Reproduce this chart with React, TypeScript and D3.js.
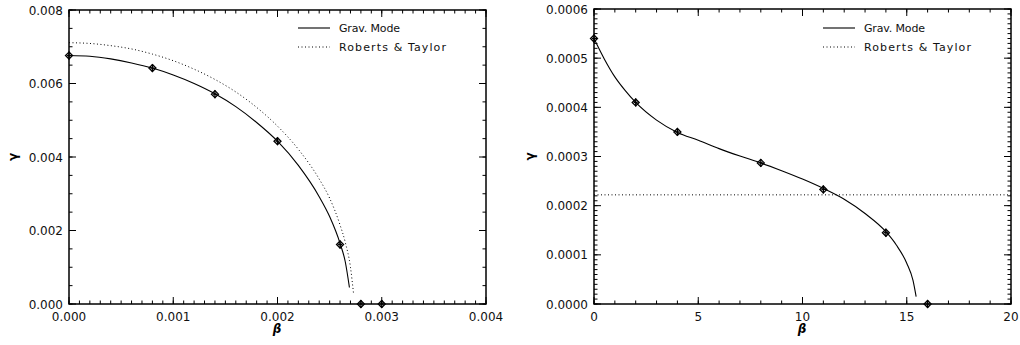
import React from "react";
import * as d3 from "d3";

// ---------- Data ----------
// Left panel: Grav. Mode curve (beta, gamma)
const leftGravBeta = [0, 0.0002, 0.0004, 0.0006, 0.0008, 0.001, 0.0012, 0.0014, 0.0016, 0.0018, 0.002, 0.0022, 0.0024, 0.0025, 0.0026, 0.00265, 0.00269];
const leftGravGamma = [0.00676, 0.00674, 0.00667, 0.00656, 0.00642, 0.00623, 0.006, 0.00572, 0.00537, 0.00494, 0.00443, 0.00377, 0.00292, 0.00238, 0.00165, 0.00115, 0.00045];
// Left panel: Roberts & Taylor curve
const leftRTBeta = [0, 0.0002, 0.0004, 0.0006, 0.0008, 0.001, 0.0012, 0.0014, 0.0016, 0.0018, 0.002, 0.0022, 0.0024, 0.0025, 0.0026, 0.00265, 0.0027, 0.00273];
const leftRTGamma = [0.00711, 0.00709, 0.00703, 0.00694, 0.0068, 0.00662, 0.00639, 0.00611, 0.00577, 0.00535, 0.00484, 0.00421, 0.0034, 0.00288, 0.00215, 0.00168, 0.001, 0.00027];
// Left panel: computed points
const leftPtsBeta = [0, 0.0008, 0.0014, 0.002, 0.0026, 0.0028, 0.003];
const leftPtsGamma = [0.00676, 0.00642, 0.00571, 0.00443, 0.00162, 0, 0];

// Right panel: Grav. Mode curve
const rightGravBeta = [0, 0.5, 1, 1.5, 2, 3, 4, 5, 6, 7, 8, 9, 10, 11, 12, 13, 14, 14.5, 15, 15.3, 15.45];
const rightGravGamma = [0.00054, 0.000498, 0.000462, 0.000434, 0.00041, 0.000374, 0.000349, 0.000333, 0.000316, 0.000301, 0.000287, 0.000271, 0.000254, 0.000235, 0.000213, 0.000184, 0.000147, 0.00012, 0.000083, 0.000048, 0.000015];
// Right panel: Roberts & Taylor (constant)
const rightRTBeta = [0, 20];
const rightRTGamma = [0.000222, 0.000222];
// Right panel: computed points
const rightPtsBeta = [0, 2, 4, 8, 11, 14, 16];
const rightPtsGamma = [0.00054, 0.00041, 0.00035, 0.000287, 0.000233, 0.000145, 0];

// Tick labels
const leftXTicks = [0, 0.001, 0.002, 0.003, 0.004];
const leftYTicks = [0, 0.002, 0.004, 0.006, 0.008];
const rightXTicks = [0, 5, 10, 15, 20];
const rightYTicks = [0, 0.0001, 0.0002, 0.0003, 0.0004, 0.0005, 0.0006];

const legendLabels = ["Grav. Mode", "Roberts & Taylor"];

type PanelProps = {
  x0: number; x1: number; y0: number; y1: number;
  xDomain: [number, number]; yDomain: [number, number];
  xTicks: number[]; yTicks: number[];
  xMinorStep: number; yMinorStep: number;
  xFmt: (v: number) => string; yFmt: (v: number) => string;
  grav: [number[], number[]]; rt: [number[], number[]];
  pts: [number[], number[]];
  legendX: number;
  gammaX: number;
  betaX: number;
};

const FONT = "'DejaVu Sans', sans-serif";

function Panel(p: PanelProps) {
  const x = d3.scaleLinear().domain(p.xDomain).range([p.x0, p.x1]);
  const y = d3.scaleLinear().domain(p.yDomain).range([p.y0, p.y1]);
  const line = d3
    .line<[number, number]>()
    .x((d) => x(d[0]))
    .y((d) => y(d[1]))
    .curve(d3.curveMonotoneX);
  const gravData = p.grav[0].map((b, i) => [b, p.grav[1][i]] as [number, number]);
  const rtData = p.rt[0].map((b, i) => [b, p.rt[1][i]] as [number, number]);
  const ptData = p.pts[0].map((b, i) => [b, p.pts[1][i]] as [number, number]);

  const xMinor = d3.range(p.xDomain[0], p.xDomain[1] + p.xMinorStep / 2, p.xMinorStep);
  const yMinor = d3.range(p.yDomain[0], p.yDomain[1] + p.yMinorStep / 2, p.yMinorStep);
  const majL = 7;
  const minL = 3.5;

  return (
    <g>
      {/* minor ticks */}
      {xMinor.map((v, i) => (
        <g key={"xm" + i} stroke="#000" strokeWidth={1}>
          <line x1={x(v)} x2={x(v)} y1={p.y0} y2={p.y0 - minL} />
          <line x1={x(v)} x2={x(v)} y1={p.y1} y2={p.y1 + minL} />
        </g>
      ))}
      {yMinor.map((v, i) => (
        <g key={"ym" + i} stroke="#000" strokeWidth={1}>
          <line x1={p.x0} x2={p.x0 + minL} y1={y(v)} y2={y(v)} />
          <line x1={p.x1} x2={p.x1 - minL} y1={y(v)} y2={y(v)} />
        </g>
      ))}
      {/* major ticks */}
      {p.xTicks.map((v, i) => (
        <g key={"xM" + i}>
          <line x1={x(v)} x2={x(v)} y1={p.y0} y2={p.y0 - majL} stroke="#000" strokeWidth={1} />
          <line x1={x(v)} x2={x(v)} y1={p.y1} y2={p.y1 + majL} stroke="#000" strokeWidth={1} />
          <text x={x(v)} y={p.y0 + 17} textAnchor="middle" fontSize={12} fontFamily={FONT} fill="#111">
            {p.xFmt(v)}
          </text>
        </g>
      ))}
      {p.yTicks.map((v, i) => (
        <g key={"yM" + i}>
          <line x1={p.x0} x2={p.x0 + majL} y1={y(v)} y2={y(v)} stroke="#000" strokeWidth={1} />
          <line x1={p.x1} x2={p.x1 - majL} y1={y(v)} y2={y(v)} stroke="#000" strokeWidth={1} />
          <text x={p.x0 - 6} y={y(v) + 4.5} textAnchor="end" fontSize={12} fontFamily={FONT} fill="#111">
            {p.yFmt(v)}
          </text>
        </g>
      ))}
      {/* frame */}
      <rect x={p.x0} y={p.y1} width={p.x1 - p.x0} height={p.y0 - p.y1} fill="none" stroke="#000" strokeWidth={1.5} />

      {/* curves */}
      <path d={line(rtData) || ""} fill="none" stroke="#000" strokeWidth={1} strokeDasharray="1,2.5" />
      <path d={line(gravData) || ""} fill="none" stroke="#000" strokeWidth={1.1} />

      {/* points */}
      {ptData.map((d, i) => {
        const cx = x(d[0]);
        const cy = y(d[1]);
        const s = 3.5;
        return (
          <g key={"p" + i} stroke="#000" strokeWidth={1.3} fill="none">
            <path d={`M${cx},${cy - s}L${cx + s},${cy}L${cx},${cy + s}L${cx - s},${cy}Z`} />
            <line x1={cx} x2={cx} y1={cy - 4} y2={cy + 4} />
            <line x1={cx - 2} x2={cx + 2} y1={cy} y2={cy} />
          </g>
        );
      })}

      {/* legend */}
      <line x1={p.legendX} x2={p.legendX + 32} y1={28} y2={28} stroke="#000" strokeWidth={1.1} />
      <text x={p.legendX + 41} y={32} fontSize={11} fontFamily={FONT} textLength={61} lengthAdjust="spacing" fill="#111">
        {legendLabels[0]}
      </text>
      <line x1={p.legendX} x2={p.legendX + 32} y1={47} y2={47} stroke="#000" strokeWidth={1} strokeDasharray="1,2.5" />
      <text x={p.legendX + 41} y={51} fontSize={11} fontFamily={FONT} textLength={107} lengthAdjust="spacing" fill="#111">
        {legendLabels[1]}
      </text>

      {/* axis titles */}
      <text x={p.betaX} y={333} textAnchor="middle" fontSize={12} fontStyle="italic" fontWeight="bold" fontFamily={FONT}>
        β
      </text>
      <text
        transform={`translate(${p.gammaX},${(p.y0 + p.y1) / 2}) rotate(-90)`}
        textAnchor="middle"
        fontSize={12}
        fontWeight="bold"
        fontFamily={FONT}
      >
        γ
      </text>
    </g>
  );
}

export default function App() {
  return (
    <svg
      width={1020}
      height={345}
      style={{ position: "absolute", left: 0, top: 0, background: "#fff" }}
    >
      <rect x={0} y={0} width={1020} height={345} fill="#fff" />
      <Panel
        x0={69} x1={486} y0={304} y1={10}
        xDomain={[0, 0.004]} yDomain={[0, 0.008]}
        xTicks={leftXTicks} yTicks={leftYTicks}
        xMinorStep={0.0001} yMinorStep={0.0005}
        xFmt={(v) => v.toFixed(3)} yFmt={(v) => v.toFixed(3)}
        grav={[leftGravBeta, leftGravGamma]}
        rt={[leftRTBeta, leftRTGamma]}
        pts={[leftPtsBeta, leftPtsGamma]}
        legendX={298}
        gammaX={17}
        betaX={277}
      />
      <Panel
        x0={594} x1={1011} y0={304} y1={9}
        xDomain={[0, 20]} yDomain={[0, 0.0006]}
        xTicks={rightXTicks} yTicks={rightYTicks}
        xMinorStep={1} yMinorStep={0.00001}
        xFmt={(v) => String(v)} yFmt={(v) => v.toFixed(4)}
        grav={[rightGravBeta, rightGravGamma]}
        rt={[rightRTBeta, rightRTGamma]}
        pts={[rightPtsBeta, rightPtsGamma]}
        legendX={823}
        gammaX={534}
        betaX={802}
      />
    </svg>
  );
}
